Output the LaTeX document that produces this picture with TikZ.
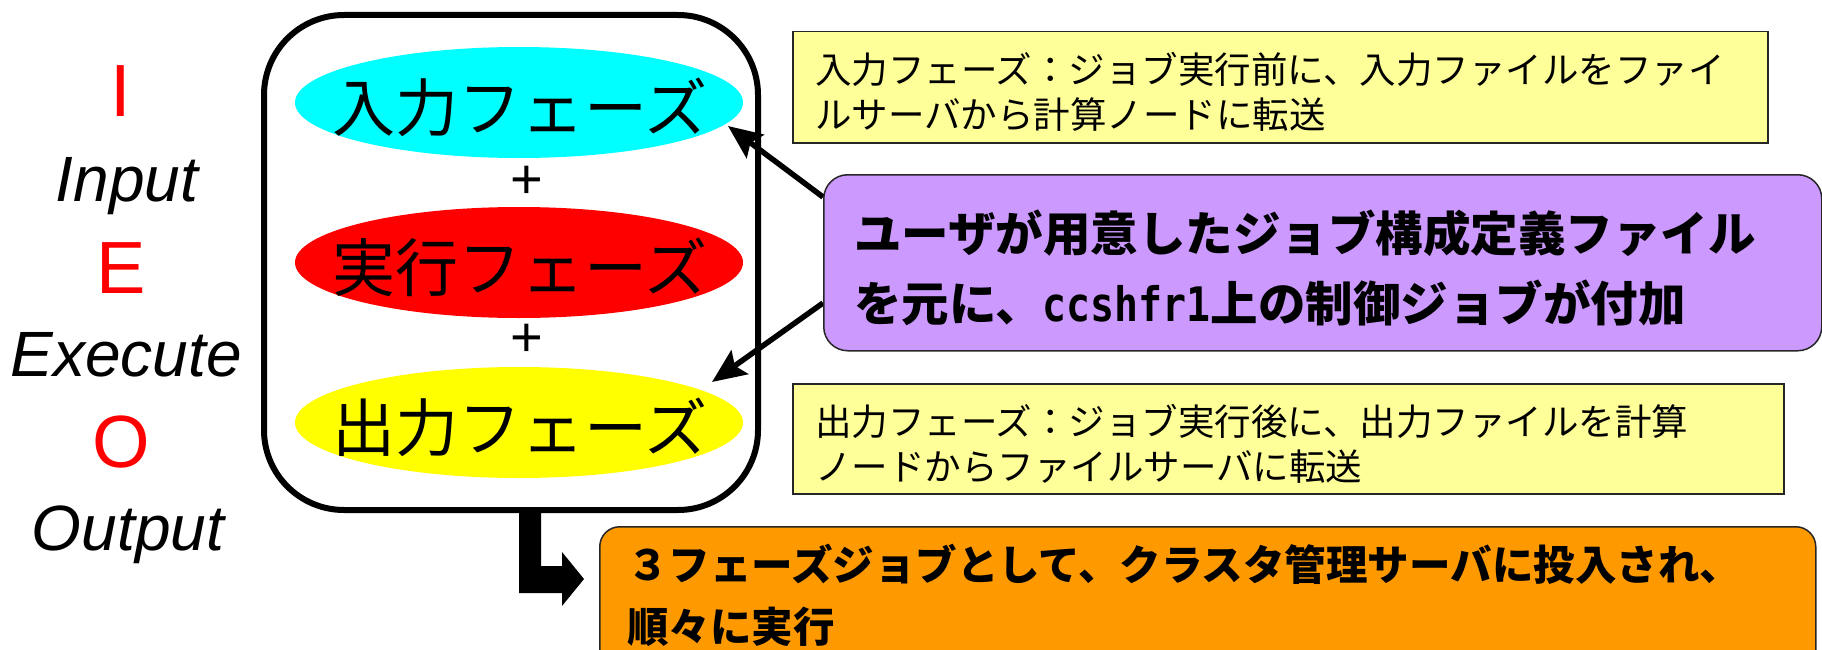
\documentclass[tikz,border=0pt]{standalone}
\usepackage{graphicx}
\usepackage{fontspec}
\setmainfont{Liberation Sans}
\newfontfamily\jp{Noto Sans CJK JP}
\newfontfamily\lat{Liberation Sans}
\newfontfamily\mono{DejaVu Sans Mono}
\usetikzlibrary{shapes.geometric,arrows.meta,calc,backgrounds}
\definecolor{cyanF}{HTML}{00FFFF}
\definecolor{redF}{HTML}{FF0000}
\definecolor{yellowF}{HTML}{FFFF00}
\definecolor{noteY}{HTML}{FFFF99}
\definecolor{purpleF}{HTML}{CC99FF}
\definecolor{orangeF}{HTML}{FF9900}
\begin{document}
\begin{tikzpicture}[x=1pt,y=-1pt,
  frame/.style={draw=black, line width=6pt, rounded corners=80pt, inner sep=0pt},
  phase/.style={ellipse, inner sep=0pt, minimum width=448pt, minimum height=111pt},
  phasetxt/.style={inner sep=0pt, font=\jp\fontsize{63}{63}\selectfont},
  plusnode/.style={inner sep=0pt, font=\lat\fontsize{56}{56}\selectfont},
  ioletter/.style={anchor=base, inner sep=0pt, text=redF, font=\lat\fontsize{74}{74}\selectfont},
  ioword/.style={anchor=base, inner sep=0pt, font=\lat\itshape\fontsize{64}{64}\selectfont},
  notebox/.style={draw=black!85, line width=1.5pt, fill=noteY, inner sep=0pt, anchor=north west},
  notetxt/.style={anchor=north west, inner sep=0pt, align=left, font=\jp\fontsize{36.5}{45}\selectfont},
  roundbox/.style={draw=black!85, line width=1.5pt, rounded corners=24pt, inner sep=0pt, anchor=north west},
  boldtxt/.style={anchor=north west, inner sep=0pt, align=left},
  conn/.style={line width=5.5pt, -{Stealth[length=34pt,width=29pt,inset=6pt]}}
]
\useasboundingbox (0,0) rectangle (1822,650);
\clip (0,0) rectangle (1822,650);

% I/E/O column
\node[ioletter] (iI) at (121,117) {I};
\node[ioword] (wI) at (127,201) {Input};
\node[ioletter] (iE) at (121,293) {E};
\node[ioword] (wE) at (126,376) {Execute};
\node[ioletter] (iO) at (121,467) {O};
\node[ioword] (wO) at (128,550) {Output};

% frame
\node[frame, minimum width=494pt, minimum height=495pt] (frame) at (511,262.5) {};

% phases
\node[phase, fill=cyanF] (cyan) at (519,102.5) {};
\node[phasetxt] (cyant) at (520,107.5) {入力フェーズ};
\node[plusnode] (plus1) at (527,182) {+};
\node[phase, fill=redF] (red) at (519,262.5) {};
\node[phasetxt] (redt) at (520,267.5) {実行フェーズ};
\node[plusnode] (plus2) at (527,340) {+};
\node[phase, fill=yellowF] (yel) at (519,422.5) {};
\node[phasetxt] (yelt) at (520,427.5) {出力フェーズ};

% note boxes
\node[notebox, minimum width=975pt, minimum height=111pt] (note1) at (792,31) {};
\node[notetxt] (note1t) at (815,52) {入力フェーズ：ジョブ実行前に、入力ファイルをファイ\\ルサーバから計算ノードに転送};
\node[notebox, minimum width=991pt, minimum height=110pt] (note2) at (792,383) {};
\node[notetxt] (note2t) at (815,404) {出力フェーズ：ジョブ実行後に、出力ファイルを計算\\ノードからファイルサーバに転送};

% purple box
\node[roundbox, fill=purpleF, minimum width=998pt, minimum height=176pt] (pur) at (823,174) {};
\node[boldtxt, font=\jp\bfseries\fontsize{47.5}{70}\selectfont] (purt) at (854,210)
  {ユーザが用意したジョブ構成定義ファイル\\を元に、\scalebox{0.84}[1]{\mono\bfseries ccshfr1}上の制御ジョブが付加};

% orange box
\node[roundbox, rounded corners=20pt, fill=orangeF, minimum width=1216pt, minimum height=150pt] (ora) at (599,526) {};
\node[boldtxt, font=\jp\bfseries\fontsize{41.5}{62}\selectfont] (orat) at (627,544)
  {３フェーズジョブとして、クラスタ管理サーバに投入され、\\順々に実行};

% connectors
\begin{scope}[on background layer]
\draw[conn] ($(pur.north west)+(0,23)$) -- ($(cyan.center)+(209,23.5)$);
\draw[conn] ($(pur.north west)+(0,129)$) -- ($(yel.center)+(193,-40.5)$);
\end{scope}

% bent arrow from frame
\fill (519,510) -- (541,510) -- (541,566) -- (562,566) -- (562,552) -- (584,579)
  -- (562,606) -- (562,593) -- (519,593) -- cycle;
\end{tikzpicture}
\end{document}
